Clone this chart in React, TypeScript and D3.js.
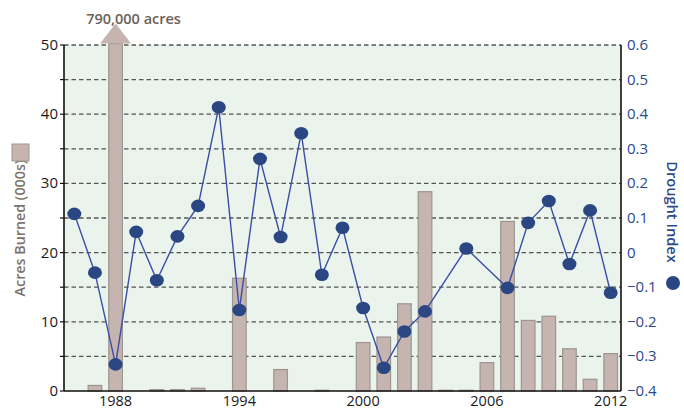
import React, { useEffect } from "react";
import * as d3 from "d3";

const years: number[] = [1986,1987,1988,1989,1990,1991,1992,1993,1994,1995,1996,1997,1998,1999,2000,2001,2002,2003,2004,2005,2006,2007,2008,2009,2010,2011,2012];
const acresBurned: number[] = [0,0.8,790,0,0.2,0.2,0.4,0,16.3,0,3.1,0,0.1,0,7.0,7.8,12.6,28.8,0.1,0.1,4.1,24.5,10.2,10.8,6.1,1.7,5.4];
const droughtIndex: (number | null)[] = [0.112,-0.058,-0.323,0.06,-0.08,0.047,0.135,0.42,-0.166,0.271,0.045,0.345,-0.064,0.072,-0.16,-0.333,-0.228,-0.17,null,0.012,null,-0.102,0.086,0.149,-0.033,0.122,-0.116];
const leftTicks: number[] = [0,10,20,30,40,50];
const gridTicks: number[] = [5,10,15,20,25,30,35,40,45,50];
const rightTicks: number[] = [-0.4,-0.3,-0.2,-0.1,0,0.1,0.2,0.3,0.4,0.5,0.6];
const xLabels: number[] = [1988,1994,2000,2006,2012];
const cappedLabel = "790,000 acres";

const W = 684, H = 409;
const L = 64, R = 621, T = 45, B = 391;
const FONT = "'Open Sans', 'Noto Sans', sans-serif";

export default function App() {
  useEffect(() => { document.body.style.margin = "0"; }, []);
  const x = d3.scaleBand<number>().domain(years).range([L, R]).paddingInner(0.34).paddingOuter(0.17);
  const yL = d3.scaleLinear().domain([0, 50]).range([B, T]);
  const yR = d3.scaleLinear().domain([-0.4, 0.6]).range([B, T]);
  const bw = x.bandwidth();
  const cx = (yr: number) => (x(yr) as number) + bw / 2;

  const pts = years.map((yr, i) => ({ yr, v: droughtIndex[i] })).filter(d => d.v !== null) as { yr: number; v: number }[];
  const line = d3.line<{ yr: number; v: number }>().x(d => cx(d.yr)).y(d => yR(d.v));

  const capIdx = acresBurned.findIndex(v => v > 50);
  const capYr = years[capIdx];
  const arrowBase = yL(50) - 1.5;
  const arrowTip = arrowBase - 20;

  return (
    <svg width={W} height={H} style={{ display: "block" }} fontFamily={FONT}>
      <rect x={L} y={T} width={R - L} height={B - T} fill="#eaf3ec" />
      {gridTicks.map(t => (
        <line key={t} x1={L} x2={R} y1={yL(t)} y2={yL(t)} stroke="#555555" strokeWidth={1.3} strokeDasharray="4.5,3" />
      ))}
      {years.map((yr, i) => {
        const v = acresBurned[i];
        if (v <= 0) return null;
        const top = v > 50 ? arrowBase : yL(v);
        return <rect key={yr} x={x(yr)} y={top} width={bw} height={B - top} fill="#c6b4b0" stroke="#9d9590" strokeWidth={1.2} />;
      })}
      {capIdx >= 0 && (
        <g>
          <path d={`M${cx(capYr) - 15.5},${arrowBase} L${cx(capYr)},${arrowTip} L${cx(capYr) + 15.5},${arrowBase} Z`} fill="#c6b4b0" />
          <text x={cx(capYr) + 18} y={arrowTip + 0.5} textAnchor="middle" fontSize={14.5} fontWeight={600} fill="#6b6158">{cappedLabel}</text>
        </g>
      )}
      <path d={line(pts) || ""} fill="none" stroke="#3a4ea6" strokeWidth={1.4} />
      {pts.map(d => (
        <ellipse key={d.yr} cx={cx(d.yr)} cy={yR(d.v)} rx={7} ry={6.3} fill="#2a4784" />
      ))}
      <line x1={L} x2={L} y1={T} y2={B} stroke="#111" strokeWidth={1.6} />
      <line x1={R} x2={R} y1={T} y2={B} stroke="#111" strokeWidth={1.6} />
      <line x1={L} x2={R} y1={B} y2={B} stroke="#111" strokeWidth={1.4} />
      {[0, ...gridTicks].map(t => (
        <line key={"lt" + t} x1={L - 4} x2={L} y1={yL(t)} y2={yL(t)} stroke="#111" strokeWidth={1.2} />
      ))}
      {leftTicks.map(t => (
        <text key={"ll" + t} x={58} y={yL(t) + 5} textAnchor="end" fontSize={15} fontWeight={500} fill="#1a1a1a">{t}</text>
      ))}
      {rightTicks.map(t => (
        <text key={"rl" + t} x={627} y={yR(t) + 5} textAnchor="start" fontSize={15} fontWeight={500} fill="#2c4a8c">{t === 0 ? "0" : d3.format(".1f")(t)}</text>
      ))}
      {xLabels.map(yr => (
        <text key={"xl" + yr} x={cx(yr)} y={405.5} textAnchor="middle" fontSize={14.5} fill="#1a1a1a">{yr}</text>
      ))}
      <g transform="translate(25,228) rotate(-90)">
        <text x={0} y={0} textAnchor="middle" fontSize={14.3} fontWeight={600} fill="#7d726a">Acres Burned (000s)</text>
      </g>
      <rect x={12} y={144} width={17} height={17} fill="#c6b4b0" stroke="#a0958f" strokeWidth={1} />
      <g transform="translate(667,212) rotate(90)">
        <text x={0} y={0} textAnchor="middle" fontSize={14.6} fontWeight={600} fill="#2c4a8c">Drought Index</text>
      </g>
      <circle cx={673} cy={283} r={7} fill="#2a4784" />
    </svg>
  );
}
